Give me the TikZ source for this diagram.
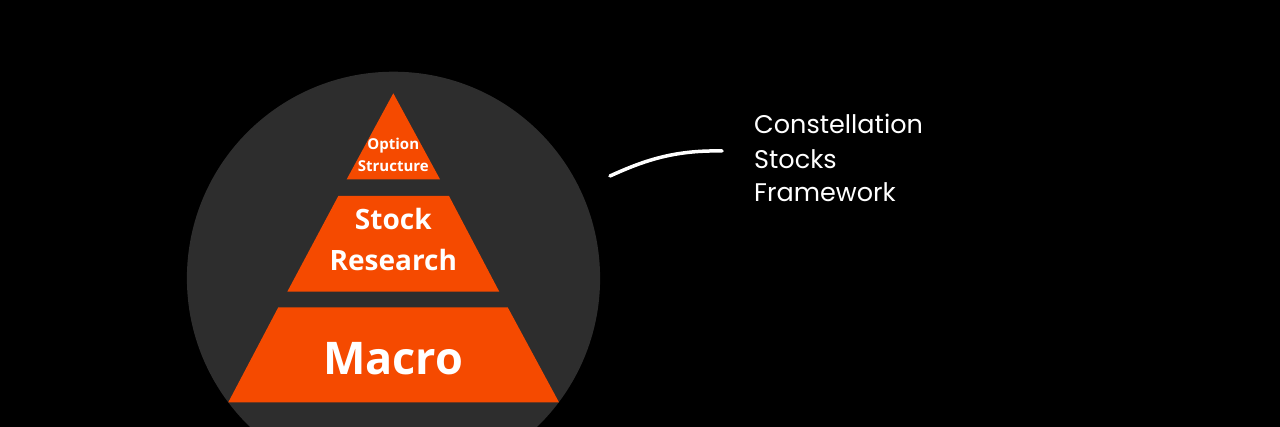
\documentclass[tikz,border=0pt]{standalone}
\usepackage{fontspec}
\setmainfont{Open Sans}
\newfontfamily\handfont{Poppins}
\definecolor{circlegray}{HTML}{2D2D2D}
\definecolor{tierorange}{HTML}{F54A00}
\tikzset{
  tier/.style={fill=tierorange},
  tierlabel/.style={text=white, font=\bfseries, align=center, inner sep=0pt},
  handlabel/.style={text=white, anchor=base west, inner sep=0pt, font=\handfont\fontsize{25.5}{30}\selectfont},
  handstroke/.style={draw=white, line width=3.5pt, line cap=round}
}
\begin{document}
\begin{tikzpicture}[x=1pt, y=-1pt]
\useasboundingbox (0,0) rectangle (1280,427);
\fill[black] (0,0) rectangle (1280,427);
\begin{scope}
\clip (0,0) rectangle (1280,427);
\fill[circlegray] (393.5,278.3) circle[radius=206.6];
\end{scope}
% tiers
\fill[tier] (393.3,93.3) -- (440,179.3) -- (346.7,179.3) -- cycle;
\fill[tier] (338.3,196) -- (449,196) -- (499.3,291.7) -- (287.3,291.7) -- cycle;
\fill[tier] (278.3,307.3) -- (507.7,307.3) -- (559,402.3) -- (228.3,402.3) -- cycle;
% labels
\node[tierlabel, anchor=base, font=\bfseries\fontsize{15}{22}\selectfont] (opt1) at (393.3,150) {Option};
\node[tierlabel, anchor=base, font=\bfseries\fontsize{15}{22}\selectfont] (opt2) at (393.3,172) {Structure};
\node[tierlabel, anchor=base, font=\bfseries\fontsize{28}{40}\selectfont] (stk1) at (393.3,230) {Stock};
\node[tierlabel, anchor=base, font=\bfseries\fontsize{28}{40}\selectfont] (stk2) at (393.3,271) {Research};
\node[tierlabel, anchor=base, font=\bfseries\fontsize{45}{50}\selectfont] (mac) at (393.3,374.3) {Macro};
% handwritten note
\node[handlabel] (h1) at (754,134) {Constellation};
\node[handlabel] (h2) at (754,168.3) {Stocks};
\node[handlabel] (h3) at (754,201.5) {Framework};
\coordinate (s0) at (610,176);
\coordinate (s1) at (722,151);
\draw[handstroke] (s0) .. controls (645,160) and (675,150) .. (s1);
\end{tikzpicture}
\end{document}
